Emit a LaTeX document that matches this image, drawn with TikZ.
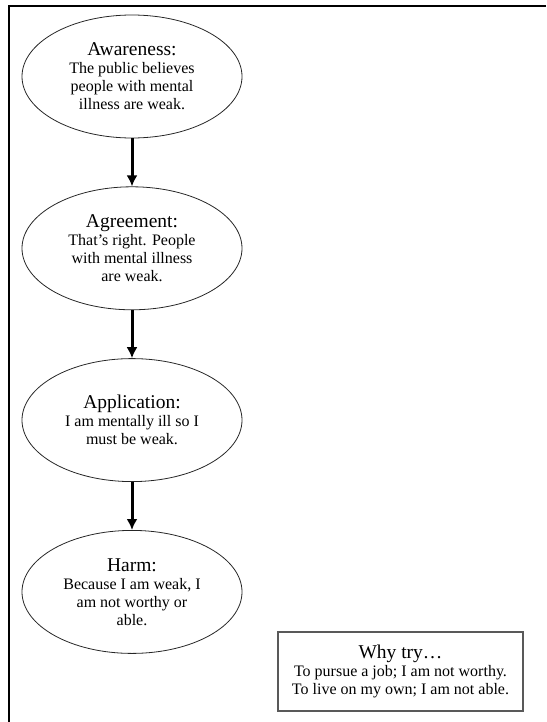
\documentclass[tikz,border=0pt]{standalone}
\usepackage{fontspec}
\setmainfont{Liberation Serif}
\usetikzlibrary{positioning,arrows.meta,shapes.geometric}
\tikzstyle{stage} = [draw=black!85, ellipse, line width=0.8pt,
    minimum width=220pt, minimum height=123pt]
\tikzstyle{wbox} = [draw=black!65, rectangle, line width=1.3pt,
    minimum width=245pt, minimum height=79pt]
\tikzstyle{link} = [->, line width=3pt]
\newcommand{\stagetitle}[1]{{\fontsize{19.5}{21}\selectfont #1}}

\begin{document}
\begin{tikzpicture}[x=1pt, y=1pt, node distance=48pt,
    >={Latex[length=11pt,width=11pt]},
    every node/.style={inner sep=0pt, align=center, text centered,
      font=\fontsize{16}{18}\selectfont}]
\useasboundingbox (0,0) rectangle (546,-722);

% outer frame, cut off on the right and at the bottom
\draw[line width=2pt] (546,-6) -- (9,-6) -- (9,-722);

\node (aware) [stage] at (132,-76.5)
  {\stagetitle{Awareness:}\\The public believes\\people with mental\\illness are weak.};
\node (agree) [stage, below=of aware]
  {\stagetitle{Agreement:}\\That's right. People\\with mental illness\\are weak.};
\node (apply) [stage, below=of agree]
  {\stagetitle{Application:}\\I am mentally ill so I\\must be weak.};
\node (harm) [stage, below=of apply]
  {\stagetitle{Harm:}\\Because I am weak, I\\am not worthy or\\able.};

\node (whytry) [wbox] at (400.5,-671.5)
  {\stagetitle{Why try\ldots}\\To pursue a job; I am not worthy.\\To live on my own; I am not able.};

\draw[link] (aware) -- (agree);
\draw[link] (agree) -- (apply);
\draw[link] (apply) -- (harm);

\end{tikzpicture}
\end{document}
